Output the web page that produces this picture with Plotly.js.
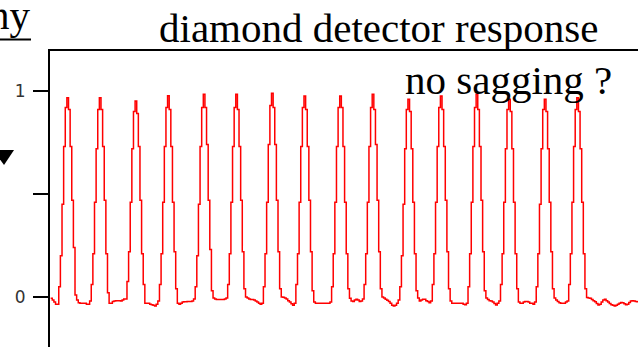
<!DOCTYPE html>
<html>
<head>
<meta charset="utf-8">
<script src="https://cdn.plot.ly/plotly-3.0.1.min.js"></script>
<style>html,body{margin:0;padding:0;background:#fff;}#chart{width:638px;height:347px;}</style>
</head>
<body>
<div id="chart"></div>
<script>
// Detector signal, one value per sample
const signal = [
  -0.006, -0.015, -0.025, -0.035, -0.035,
  0.05, 0.20, 0.45, 0.73, 0.92, 0.967, 0.91, 0.73, 0.47, 0.24, 0.01,
  -0.015, -0.028, -0.03, -0.03, -0.03, -0.03, -0.035, -0.035, -0.02,
  0.06, 0.21, 0.46, 0.72, 0.91, 0.967, 0.91, 0.73, 0.47, 0.21, 0.02,
  -0.03, -0.03, -0.022, -0.02, -0.018, -0.018, -0.018, -0.02, -0.015, -0.01, -0.01,
  0.075, 0.22, 0.46, 0.72, 0.90, 0.951, 0.89, 0.73, 0.47, 0.21, 0.06,
  -0.03, -0.03, -0.03, -0.035, -0.038, -0.04, -0.044, -0.035, -0.02,
  0.06, 0.21, 0.46, 0.73, 0.92, 0.977, 0.91, 0.73, 0.46, 0.22, 0.04,
  -0.03, -0.035, -0.03, -0.025, -0.023, -0.023, -0.022, -0.022, -0.022, -0.02, -0.01,
  0.05, 0.20, 0.45, 0.73, 0.92, 0.984, 0.92, 0.74, 0.47, 0.23, 0.03,
  -0.005, -0.01, -0.012, -0.012, -0.012, -0.012, -0.012, -0.01, -0.005,
  0.06, 0.21, 0.46, 0.73, 0.92, 0.984, 0.91, 0.73, 0.47, 0.22, 0.04,
  0.0, -0.005, -0.01, -0.012, -0.012, -0.015, -0.02, -0.025, -0.03, -0.035, -0.03,
  0.05, 0.21, 0.46, 0.74, 0.93, 0.989, 0.92, 0.74, 0.47, 0.22, 0.04,
  0.0, -0.002, -0.005, -0.01, -0.018, -0.025, -0.033, -0.04, -0.03,
  0.06, 0.21, 0.46, 0.73, 0.92, 0.976, 0.91, 0.73, 0.47, 0.22, 0.03,
  -0.025, -0.03, -0.03, -0.03, -0.03, -0.03, -0.03, -0.03, -0.03, -0.03, -0.025,
  0.05, 0.21, 0.46, 0.73, 0.92, 0.976, 0.92, 0.73, 0.46, 0.21, 0.04,
  -0.006, -0.02, -0.022, -0.015, -0.011, -0.015, -0.022, -0.02, -0.01,
  0.06, 0.21, 0.46, 0.73, 0.92, 0.984, 0.91, 0.74, 0.47, 0.22, 0.04,
  0.0, -0.005, -0.011, -0.016, -0.022, -0.03, -0.04, -0.044, -0.04, -0.03, -0.015,
  0.05, 0.20, 0.45, 0.72, 0.91, 0.96, 0.90, 0.72, 0.46, 0.21, 0.03,
  -0.005, -0.02, -0.015, -0.011, -0.011, -0.018, -0.022, -0.028, -0.02,
  0.06, 0.21, 0.46, 0.73, 0.92, 0.976, 0.91, 0.73, 0.47, 0.22, 0.04,
  -0.02, -0.03, -0.03, -0.03, -0.03, -0.03, -0.03, -0.03, -0.035, -0.038, -0.03,
  0.05, 0.21, 0.46, 0.73, 0.92, 0.984, 0.91, 0.73, 0.47, 0.22, 0.03,
  -0.005, -0.012, -0.018, -0.02, -0.025, -0.032, -0.039, -0.03, -0.02,
  0.06, 0.21, 0.46, 0.72, 0.91, 0.96, 0.90, 0.72, 0.46, 0.21, 0.04,
  -0.025, -0.03, -0.03, -0.025, -0.022, -0.022, -0.025, -0.03, -0.03, -0.035, -0.025,
  0.05, 0.21, 0.45, 0.72, 0.91, 0.96, 0.90, 0.72, 0.46, 0.22, 0.04,
  -0.005, -0.015, -0.022, -0.028, -0.03, -0.03, -0.03, -0.025, -0.02,
  0.06, 0.21, 0.46, 0.73, 0.91, 0.967, 0.90, 0.72, 0.46, 0.21, 0.04,
  -0.003, -0.005, -0.006, -0.012, -0.018, -0.023, -0.032, -0.039, -0.035, -0.025, -0.015,
  -0.011, -0.018, -0.025, -0.032, -0.038, -0.04, -0.044, -0.04, -0.035, -0.03, -0.027,
  -0.028, -0.033, -0.038, -0.035, -0.027, -0.02, -0.018, -0.02, -0.022, -0.023, -0.023
];
const sampleIndex = signal.map((_, i) => i);

const yTickValues = [0, 0.5, 1];
const yTickLabels = ['0', '', '1'];

const titleText = 'diamond detector response';
const noteText = 'no sagging ?';
const cornerText = 'ny';

const serif = '"Liberation Serif", "Times New Roman", Times, serif';

const trace = {
  x: sampleIndex,
  y: signal,
  type: 'scatter',
  mode: 'lines',
  line: {color: 'rgb(255,0,0)', width: 1.5, shape: 'hv'},
  hoverinfo: 'skip'
};

const layout = {
  width: 638,
  height: 347,
  margin: {l: 50, r: 0, t: 51, b: 0},
  paper_bgcolor: '#ffffff',
  plot_bgcolor: '#ffffff',
  showlegend: false,
  xaxis: {
    range: [-0.4, 361.67],
    side: 'top',
    showline: true,
    linecolor: '#000',
    linewidth: 2,
    showgrid: false,
    zeroline: false,
    showticklabels: false,
    ticks: ''
  },
  yaxis: {
    range: [-0.243, 1.194],
    tickvals: yTickValues,
    ticktext: yTickLabels,
    ticks: 'outside',
    ticklen: 15,
    tickwidth: 2,
    tickcolor: '#000',
    ticklabelstandoff: 4,
    showline: true,
    linecolor: '#000',
    linewidth: 2,
    showgrid: false,
    zeroline: false,
    tickfont: {family: '"DejaVu Sans", Verdana, sans-serif', size: 17, color: '#333'}
  },
  annotations: [
    {text: titleText, xref: 'paper', yref: 'paper', x: 0.1828, y: 1.1605,
     xanchor: 'left', yanchor: 'top', showarrow: false,
     font: {family: serif, size: 41, color: '#000'}},
    {text: noteText, xref: 'paper', yref: 'paper', x: 0.5995, y: 0.9848,
     xanchor: 'left', yanchor: 'top', showarrow: false,
     font: {family: serif, size: 41, color: '#000'}},
    {text: cornerText, xref: 'paper', yref: 'paper', x: -0.0281, y: 1.2044,
     xanchor: 'right', yanchor: 'top', showarrow: false,
     font: {family: serif, size: 41, color: '#000'}}
  ],
  shapes: [
    {type: 'line', xref: 'paper', yref: 'paper', x0: -0.1, x1: -0.0323, y0: 1.0389, y1: 1.0389,
     line: {color: '#000', width: 2}},
    {type: 'path', xref: 'paper', yref: 'paper',
     path: 'M -0.0969,0.6655 L -0.0612,0.6655 L -0.0782,0.6149 Z',
     fillcolor: '#000', line: {width: 0}}
  ]
};

Plotly.newPlot('chart', [trace], layout, {staticPlot: true, displayModeBar: false});
</script>
</body>
</html>
